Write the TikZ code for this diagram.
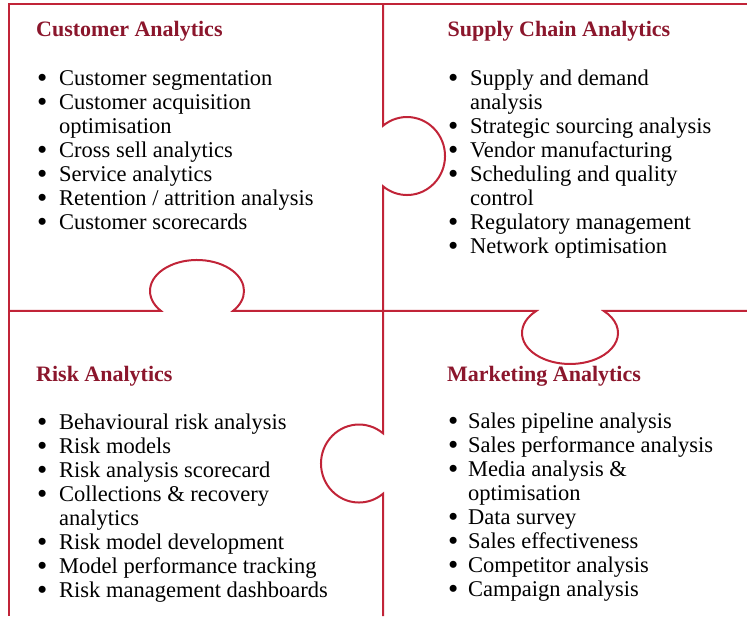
\documentclass[tikz,border=0pt]{standalone}
\usepackage{fontspec}
\setmainfont{Liberation Serif}
\usepackage{array}
\usepackage{graphicx}
\definecolor{puzzlered}{RGB}{193,36,56}
\definecolor{titlered}{RGB}{139,22,44}
\newcommand{\bul}{\raisebox{-2pt}{\scalebox{1.3}{\textbullet}}}
\newcommand{\puzlist}[2][22pt]{{\fontsize{22.5}{24}\selectfont\begin{tabular}[t]{@{}p{#1}@{}l@{}}#2\end{tabular}}}
\tikzset{
  piece/.style={draw=puzzlered, line width=2pt},
  heading/.style={anchor=base west, inner sep=0pt, text=titlered, font=\fontsize{22}{24}\selectfont\bfseries},
  itemlist/.style={anchor=base west, inner sep=0pt, text=black}
}
\begin{document}
\begin{tikzpicture}[x=1pt,y=1pt]
	\useasboundingbox (0,0) rectangle (747,616);

	% The frame
	\draw[piece] (747,612) -- (9,612) -- (9,0);

	% The horizontal cut
	\draw[piece] (9,305) -- (161.1,305)
		arc[start angle=220.2, end angle=-40.2, x radius=47, y radius=31] -- (536.2,305)
		arc[start angle=134.8, end angle=405.2, x radius=48, y radius=31] -- (747,305);

	% The vertical cut
	\draw[piece] (383,612) -- (383,490.2)
		arc[start angle=129.2, end angle=-129.2, x radius=38, y radius=39] -- (383,182.7)
		arc[start angle=50.8, end angle=309.2, x radius=38, y radius=39] -- (383,0);

	% Customer
	\node[heading] (custTitle) at (36,579) {Customer Analytics};
	\node[itemlist] (custList) at (37,530) {\puzlist{
		\bul & Customer segmentation\\
		\bul & Customer acquisition\\
		 & optimisation\\
		\bul & Cross sell analytics\\
		\bul & Service analytics\\
		\bul & Retention / attrition analysis\\
		\bul & Customer scorecards}};

	% Supply chain
	\node[heading] (supTitle) at (447.5,579) {Supply Chain Analytics};
	\node[itemlist] (supList) at (448,530) {\puzlist{
		\bul & Supply and demand\\
		 & analysis\\
		\bul & Strategic sourcing analysis\\
		\bul & Vendor manufacturing\\
		\bul & Scheduling and quality\\
		 & control\\
		\bul & Regulatory management\\
		\bul & Network optimisation}};

	% Risk
	\node[heading] (riskTitle) at (36,234.3) {Risk Analytics};
	\node[itemlist] (riskList) at (37,186.7) {\puzlist{
		\bul & Behavioural risk analysis\\
		\bul & Risk models\\
		\bul & Risk analysis scorecard\\
		\bul & Collections \& recovery\\
		 & analytics\\
		\bul & Risk model development\\
		\bul & Model performance tracking\\
		\bul & Risk management dashboards}};

	% Marketing
	\node[heading] (mktTitle) at (447,234.3) {Marketing Analytics};
	\node[itemlist] (mktList) at (448,187) {\puzlist[20pt]{
		\bul & Sales pipeline analysis\\
		\bul & Sales performance analysis\\
		\bul & Media analysis \&\\
		 & optimisation\\
		\bul & Data survey\\
		\bul & Sales effectiveness\\
		\bul & Competitor analysis\\
		\bul & Campaign analysis}};
\end{tikzpicture}
\end{document}
